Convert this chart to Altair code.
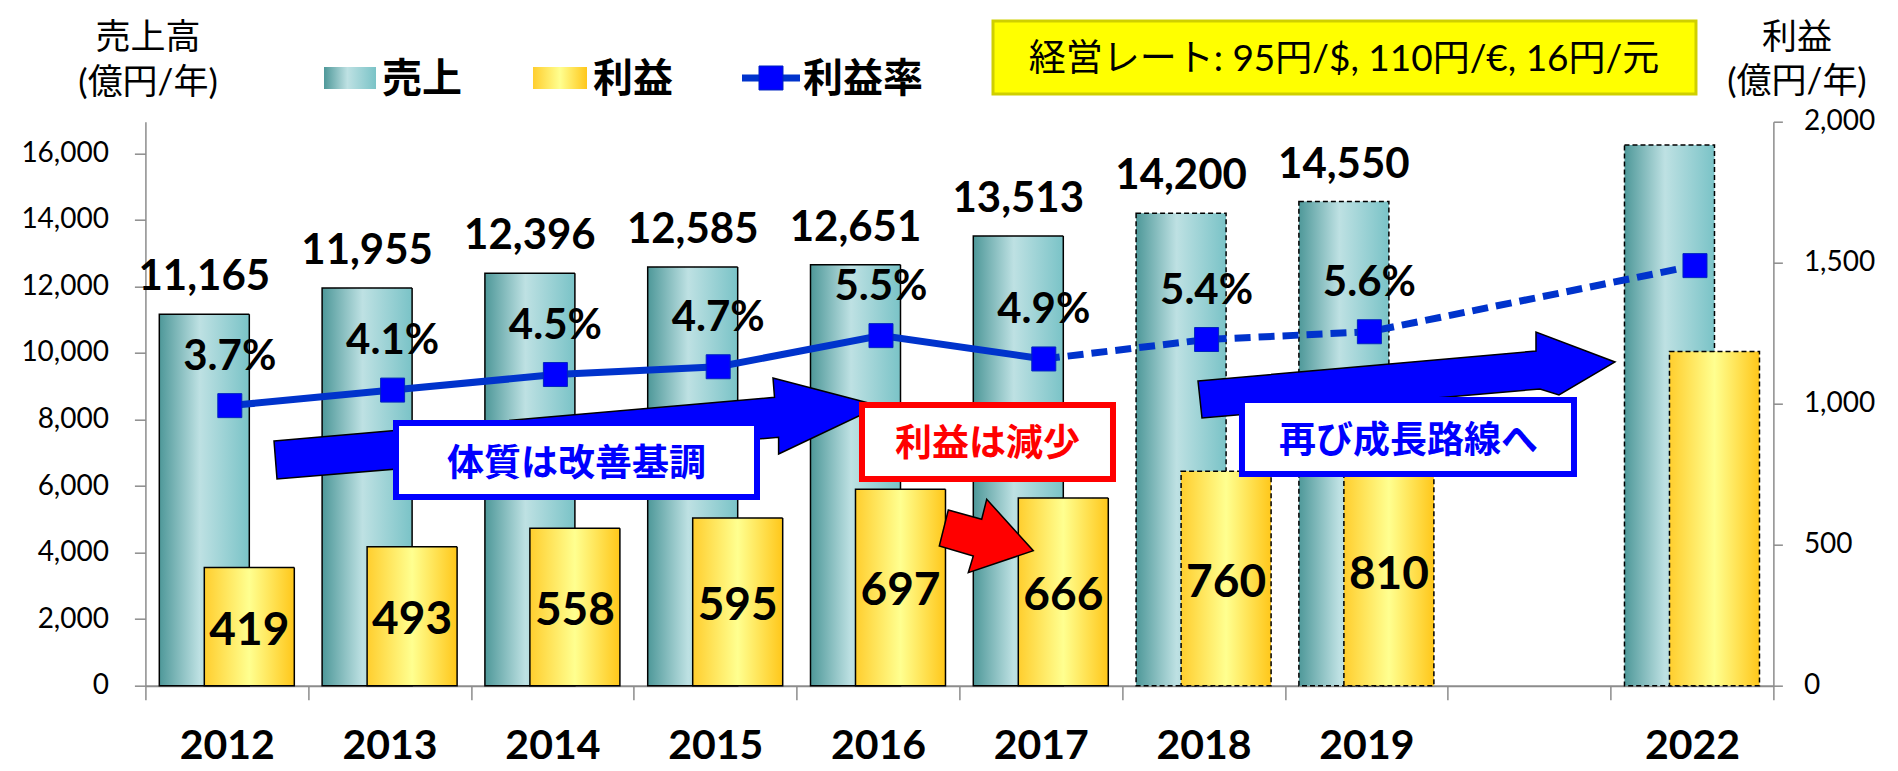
import altair as alt
import pandas as pd

# ---------------- data ----------------
YEARS = ["2012", "2013", "2014", "2015", "2016", "2017", "2018", "2019", "2022"]
SALES = [11165, 11955, 12396, 12585, 12651, 13513, 14200, 14550, 16250]
PROFIT = [419, 493, 558, 595, 697, 666, 760, 810, 1185]
RATE = [3.7, 4.1, 4.5, 4.7, 5.5, 4.9, 5.4, 5.6, 7.3]
KIND = ["actual", "actual", "actual", "actual", "actual", "actual", "plan", "plan", "plan"]
CATS = ["2012", "2013", "2014", "2015", "2016", "2017", "2018", "2019", " ", "2022"]
LABELLED = ["2012", "2013", "2014", "2015", "2016", "2017", "2018", "2019"]
SALES_TICKS = [0, 2000, 4000, 6000, 8000, 10000, 12000, 14000, 16000]
PROFIT_TICKS = [0, 500, 1000, 1500, 2000]

df = pd.DataFrame(dict(year=YEARS, sales=SALES, profit=PROFIT, rate=RATE, kind=KIND))
df_solid = df[df.kind == "actual"]
df_dash = pd.concat([df[df.kind == "actual"].tail(1), df[df.kind == "plan"]])
one = pd.DataFrame({"k": [0]})

# ---------------- layout / style ----------------
OX, OY = 145.4, 121.7      # plot origin in page pixels
W, H = 1628, 564
GRAY = "#8c8c8c"
JP = "Noto Sans CJK JP"
MIX = "Lato, Noto Sans CJK JP"


def grad(stops):
    return alt.Gradient(gradient="linear", x1=0, x2=1, y1=0, y2=0,
                        stops=[alt.GradientStop(color=c, offset=o) for o, c in stops])


TEAL = grad([(0, "#4e9899"), (0.45, "#bee1e3"), (1, "#7ac3c7")])
GOLD = grad([(0, "#ffce2e"), (0.5, "#ffff90"), (1, "#ffc71a")])


def px(X):
    return X - OX


def py(Y):
    return Y - OY


x_enc = alt.X("year:N", sort=CATS,
              scale=alt.Scale(type="band", domain=CATS, paddingInner=0, paddingOuter=0),
              axis=alt.Axis(title=None, tickBand="extent", tickSize=14, labelPadding=27,
                            labelFont="Lato", labelFontWeight="bold", labelFontSize=41,
                            labelColor="black", domainColor=GRAY, tickColor=GRAY,
                            domainWidth=2, tickWidth=1.5, labelAngle=0))

dash_enc = alt.StrokeDash("kind:N", scale=alt.Scale(domain=["actual", "plan"], range=[[1, 0], [5, 3]]),
                          legend=None)

y_sales = alt.Y("sales:Q", scale=alt.Scale(domain=[0, 16950], nice=False),
                axis=alt.Axis(orient="left", values=SALES_TICKS, format=",.0f", title=None, tickSize=11,
                              labelPadding=26, labelFont="Lato", labelFontSize=28, labelColor="black",
                              domainColor=GRAY, tickColor=GRAY, domainWidth=1.5, tickWidth=1.5, grid=False))

y_profit = alt.Y("profit:Q", scale=alt.Scale(domain=[0, 2000], nice=False),
                 axis=alt.Axis(orient="right", values=PROFIT_TICKS, format=",.0f", title=None, tickSize=9,
                               labelPadding=21, labelFont="Lato", labelFontSize=28, labelColor="black",
                               domainColor=GRAY, tickColor=GRAY, domainWidth=1.5, tickWidth=1.5, grid=False))

y_rate = alt.Y("rate:Q", scale=alt.Scale(domain=[-3.5, 11], nice=False, zero=False), axis=None)

# ---------------- sales ----------------
sales_bar = alt.Chart(df).mark_bar(width=90, xOffset=-22.5, fill=TEAL, stroke="black", strokeWidth=1.5).encode(
    x=x_enc, y=y_sales, strokeDash=dash_enc)
sales_txt = alt.Chart(df).transform_filter(
    alt.FieldOneOfPredicate(field="year", oneOf=LABELLED)
).mark_text(font="Lato", fontWeight="bold", fontSize=42, dy=-24, baseline="alphabetic",
            xOffset=-22.5, color="black").encode(
    x=x_enc, y=y_sales, text=alt.Text("sales:Q", format=",.0f"))
sales_grp = alt.layer(sales_bar, sales_txt)

# ---------------- profit ----------------
profit_bar = alt.Chart(df).mark_bar(width=90, xOffset=22.5, fill=GOLD, stroke="black", strokeWidth=1.5).encode(
    x=x_enc, y=y_profit, strokeDash=dash_enc)
profit_txt = alt.Chart(df).transform_filter(
    alt.FieldOneOfPredicate(field="year", oneOf=LABELLED)
).transform_calculate(mid="datum.profit / 2").mark_text(
    font="Lato", fontWeight="bold", fontSize=46, baseline="middle", xOffset=22.5, color="black", dy=4
).encode(x=x_enc, y=alt.Y("mid:Q", scale=alt.Scale(domain=[0, 2000], nice=False)), text="profit:Q")
profit_grp = alt.layer(profit_bar, profit_txt)

# ---------------- rate ----------------
line_solid = alt.Chart(df_solid).mark_line(color="#0033cc", strokeWidth=7, xOffset=3).encode(x=x_enc, y=y_rate)
line_dash = alt.Chart(df_dash).mark_line(color="#0033cc", strokeWidth=7, strokeDash=[16, 8], xOffset=3).encode(
    x=x_enc, y=y_rate)
markers = alt.Chart(df).mark_point(shape="square", size=576, filled=True, fill="#0000ff", stroke="#0024c0",
                                   strokeWidth=1, opacity=1, xOffset=3).encode(x=x_enc, y=y_rate)
rate_txt = alt.Chart(df).transform_filter(
    alt.FieldOneOfPredicate(field="year", oneOf=LABELLED)
).transform_calculate(lbl="format(datum.rate, '.1f') + '%'").mark_text(
    font="Lato", fontWeight="bold", fontSize=42, dy=-36, baseline="alphabetic", xOffset=3, color="black"
).encode(x=x_enc, y=y_rate, text="lbl:N")
rate_grp = alt.layer(line_solid, line_dash, markers, rate_txt)


# ---------------- annotations ----------------
def rect(X1, Y1, X2, Y2, **kw):
    return alt.Chart(one).mark_rect(**kw).encode(
        x=alt.value(px(X1)), x2=alt.value(px(X2)), y=alt.value(py(Y1)), y2=alt.value(py(Y2)))


def text(s, X, Y, **kw):
    base = dict(baseline="alphabetic", align="center", color="black")
    base.update(kw)
    return alt.Chart(one).mark_text(text=s, **base).encode(x=alt.value(px(X)), y=alt.value(py(Y)))


def poly(points, **kw):
    d = "M" + " L".join(f"{px(a):.1f},{py(b):.1f}" for a, b in points) + " Z"
    return alt.Chart(one).mark_point(shape=d, size=4, filled=True, opacity=1, **kw).encode(
        x=alt.value(0), y=alt.value(0))


ARROW1 = [(274, 441), (774.5, 397.3), (773, 378), (880, 406), (778.6, 454), (778.6, 437.3), (277, 479)]
ARROW2 = [(1198, 381), (1536, 351), (1536, 332), (1615, 362), (1559, 395), (1540, 389), (1202, 418)]
ARROW_RED = [(948.3, 510), (981.7, 519.3), (986.7, 499.3), (1033.3, 550.7), (968.3, 572.7), (973.3, 556),
             (939.3, 546)]

ann = [
    # exchange-rate box
    rect(993, 21, 1696, 94, fill="#ffff00", stroke="#cfcf00", strokeWidth=3),
    text("経営レート: 95円/$, 110円/€, 16円/元", 1344, 71, font=MIX, fontSize=37),
    # axis titles
    text("売上高", 148, 49.5, font=JP, fontSize=35),
    text("(億円/年)", 148, 94, font=MIX, fontSize=35),
    text("利益", 1797, 49.5, font=JP, fontSize=35),
    text("(億円/年)", 1797, 93, font=MIX, fontSize=35),
    # legend
    rect(324, 67, 376, 89, fill=TEAL),
    text("売上", 382, 92, font=JP, fontSize=40, fontWeight="bold", align="left"),
    rect(533, 67, 587, 89, fill=GOLD),
    text("利益", 593, 92, font=JP, fontSize=40, fontWeight="bold", align="left"),
    alt.Chart(one).mark_rule(color="#0033cc", strokeWidth=7).encode(
        x=alt.value(px(742)), x2=alt.value(px(800)), y=alt.value(py(78))),
    alt.Chart(one).mark_point(shape="square", size=576, filled=True, fill="#0000ff", stroke="#0024c0",
                              strokeWidth=1, opacity=1).encode(x=alt.value(px(771)), y=alt.value(py(78))),
    text("利益率", 803, 92, font=JP, fontSize=40, fontWeight="bold", align="left"),
    # arrows
    poly(ARROW1, fill="#0000ff", stroke="black", strokeWidth=1.5),
    poly(ARROW2, fill="#0000ff", stroke="black", strokeWidth=1.5),
    poly(ARROW_RED, fill="#ff0000", stroke="black", strokeWidth=1.5),
    # call-out boxes
    rect(396, 423, 757, 497, fill="white", stroke="#0000ff", strokeWidth=6),
    text("体質は改善基調", 576.5, 476, font=JP, fontSize=37, fontWeight="bold", color="#0000ff"),
    rect(862, 405, 1113, 479, fill="white", stroke="#ff0000", strokeWidth=6),
    text("利益は減少", 987.5, 456, font=JP, fontSize=37, fontWeight="bold", color="#ff0000"),
    rect(1242, 400, 1574, 474, fill="white", stroke="#0000ff", strokeWidth=6),
    text("再び成長路線へ", 1408.5, 453, font=JP, fontSize=37, fontWeight="bold", color="#0000ff"),
]

chart = alt.layer(sales_grp, profit_grp, rate_grp, *ann).resolve_scale(y="independent").properties(
    width=W, height=H,
    autosize=alt.AutoSizeParams(type="none"),
    padding={"left": OX - 8, "top": OY - 8, "right": 110, "bottom": 85},
    background="white",
).configure_view(stroke=None)

chart.save("out.html", embed_options={"renderer": "svg", "actions": False})
